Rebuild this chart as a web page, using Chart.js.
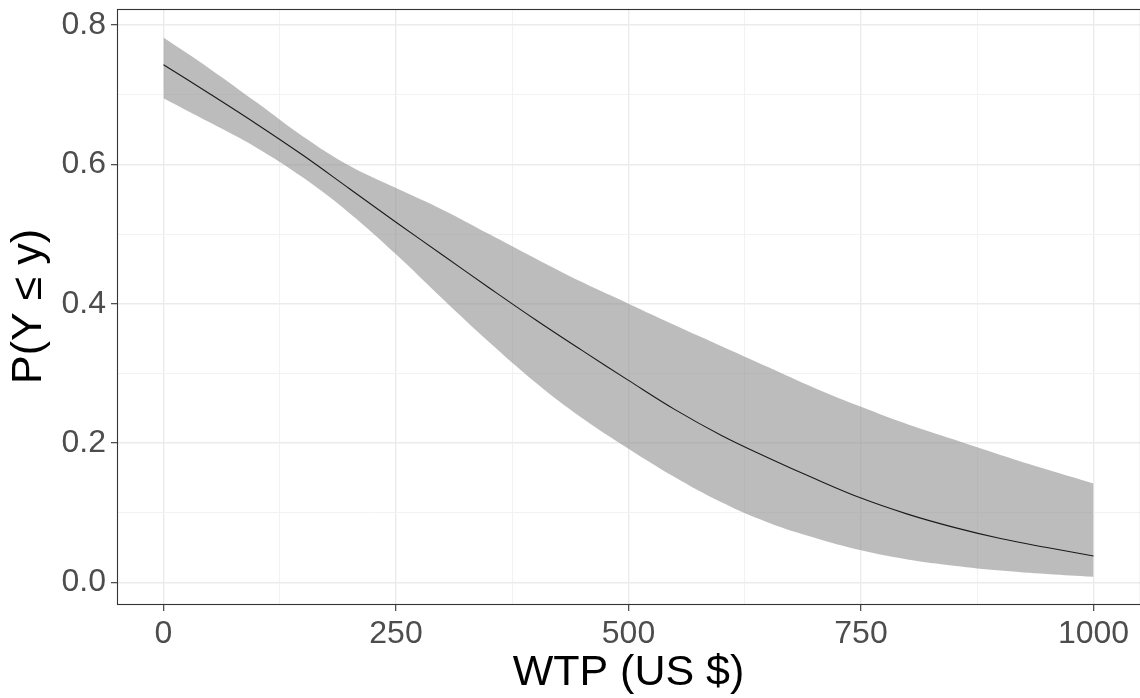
<!DOCTYPE html>
<html>
<head>
<meta charset="utf-8">
<script src="https://cdn.jsdelivr.net/npm/chart.js@4.4.1/dist/chart.umd.min.js"></script>
<style>
  html, body { margin: 0; padding: 0; background: #ffffff; }
  #wrap { width: 1140px; height: 698px; position: relative; }
</style>
</head>
<body>
<div id="wrap"><canvas id="chart"></canvas></div>
<script>
// Willingness to pay (US $) and predicted cumulative probability with its confidence band
const wtp = [0, 50, 100, 150, 200, 250, 300, 350, 400, 450, 500,
             550, 600, 650, 700, 750, 800, 850, 900, 950, 1000];
const probFit = [0.743, 0.701, 0.658, 0.613, 0.565, 0.517, 0.470, 0.423, 0.377, 0.333, 0.290,
                 0.248, 0.211, 0.179, 0.149, 0.121, 0.098, 0.079, 0.063, 0.050, 0.038];
const probUpper = [0.782, 0.737, 0.689, 0.640, 0.598, 0.566, 0.535, 0.500, 0.465, 0.431, 0.400,
                   0.369, 0.339, 0.309, 0.279, 0.252, 0.227, 0.205, 0.183, 0.162, 0.142];
const probLower = [0.695, 0.660, 0.624, 0.581, 0.530, 0.471, 0.407, 0.345, 0.287, 0.236, 0.192,
                   0.151, 0.115, 0.086, 0.064, 0.046, 0.033, 0.024, 0.017, 0.012, 0.008];

// Axis breaks: labelled (major) and unlabelled (minor) grid positions
const xMajorTicks = [0, 250, 500, 750, 1000];
const xMinorTicks = [125, 375, 625, 875];
const yMajorTicks = [0.0, 0.2, 0.4, 0.6, 0.8];
const yMinorTicks = [0.1, 0.3, 0.5, 0.7];

const toPoints = (ys) => wtp.map((x, i) => ({ x: x, y: ys[i] }));

function tickSet(major, minor) {
  return major.concat(minor).sort((a, b) => a - b).map(v => ({ value: v }));
}
function isMajor(list, v) {
  return list.some(m => Math.abs(m - v) < 1e-9);
}

// Panel border drawn on top of everything, like a framed plot panel
const panelBorder = {
  id: 'panelBorder',
  afterDraw(chart) {
    const { ctx, chartArea: a } = chart;
    ctx.save();
    ctx.strokeStyle = '#333333';
    ctx.lineWidth = 1.1;
    ctx.strokeRect(a.left + 0.5, a.top + 0.5, a.right - a.left, a.bottom - a.top);
    ctx.restore();
  }
};

const tickFont = { family: '"Liberation Sans", Arial, sans-serif', size: 32 };
const titleFont = { family: '"Liberation Sans", Arial, sans-serif', size: 43, lineHeight: 1 };

new Chart(document.getElementById('chart'), {
  type: 'line',
  data: {
    datasets: [
      {
        label: 'upper',
        data: toPoints(probUpper),
        borderWidth: 0,
        pointRadius: 0,
        backgroundColor: 'rgba(140,140,140,0.58)',
        fill: '+1',
        tension: 0.4,
        order: 2
      },
      {
        label: 'lower',
        data: toPoints(probLower),
        borderWidth: 0,
        pointRadius: 0,
        fill: false,
        tension: 0.4,
        order: 2
      },
      {
        label: 'fit',
        data: toPoints(probFit),
        borderColor: '#1a1a1a',
        borderWidth: 1.1,
        pointRadius: 0,
        fill: false,
        tension: 0.4,
        order: 1
      }
    ]
  },
  options: {
    responsive: true,
    maintainAspectRatio: false,
    animation: false,
    layout: { padding: { top: 9, right: 0, bottom: 0, left: 0 } },
    plugins: {
      legend: { display: false },
      tooltip: { enabled: false }
    },
    scales: {
      x: {
        type: 'linear',
        min: -50,
        max: 1050,
        afterBuildTicks(scale) { scale.ticks = tickSet(xMajorTicks, xMinorTicks); },
        afterFit(scale) {
          scale.height = 94;
          scale.paddingLeft = 0;
          scale.paddingRight = 0;
        },
        border: { display: false },
        grid: {
          color: (c) => isMajor(xMajorTicks, c.tick.value) ? '#ebebeb' : '#f2f2f2',
          lineWidth: (c) => isMajor(xMajorTicks, c.tick.value) ? 1.4 : 1.0,
          tickColor: (c) => isMajor(xMajorTicks, c.tick.value) ? '#333333' : 'rgba(0,0,0,0)',
          tickLength: 7,
          tickWidth: 1.1
        },
        ticks: {
          autoSkip: false,
          maxRotation: 0,
          padding: 4,
          color: '#4d4d4d',
          font: tickFont,
          callback: (v) => isMajor(xMajorTicks, v) ? String(v) : ''
        },
        title: {
          display: true,
          text: 'WTP (US $)',
          color: '#000000',
          font: titleFont,
          padding: { top: 0, bottom: 3 }
        }
      },
      y: {
        type: 'linear',
        min: -0.031,
        max: 0.823,
        afterBuildTicks(scale) { scale.ticks = tickSet(yMajorTicks, yMinorTicks); },
        afterFit(scale) {
          scale.width = 117;
          scale.paddingTop = 0;
          scale.paddingBottom = 0;
        },
        border: { display: false },
        grid: {
          color: (c) => isMajor(yMajorTicks, c.tick.value) ? '#ebebeb' : '#f2f2f2',
          lineWidth: (c) => isMajor(yMajorTicks, c.tick.value) ? 1.4 : 1.0,
          tickColor: (c) => isMajor(yMajorTicks, c.tick.value) ? '#333333' : 'rgba(0,0,0,0)',
          tickLength: 6,
          tickWidth: 1.1
        },
        ticks: {
          autoSkip: false,
          padding: 5,
          color: '#4d4d4d',
          font: tickFont,
          callback: (v) => isMajor(yMajorTicks, v) ? v.toFixed(1) : ''
        },
        title: {
          display: true,
          text: 'P(Y ≤ y)',
          color: '#000000',
          font: titleFont,
          padding: { top: 8, bottom: 0 }
        }
      }
    }
  },
  plugins: [panelBorder]
});
</script>
</body>
</html>
